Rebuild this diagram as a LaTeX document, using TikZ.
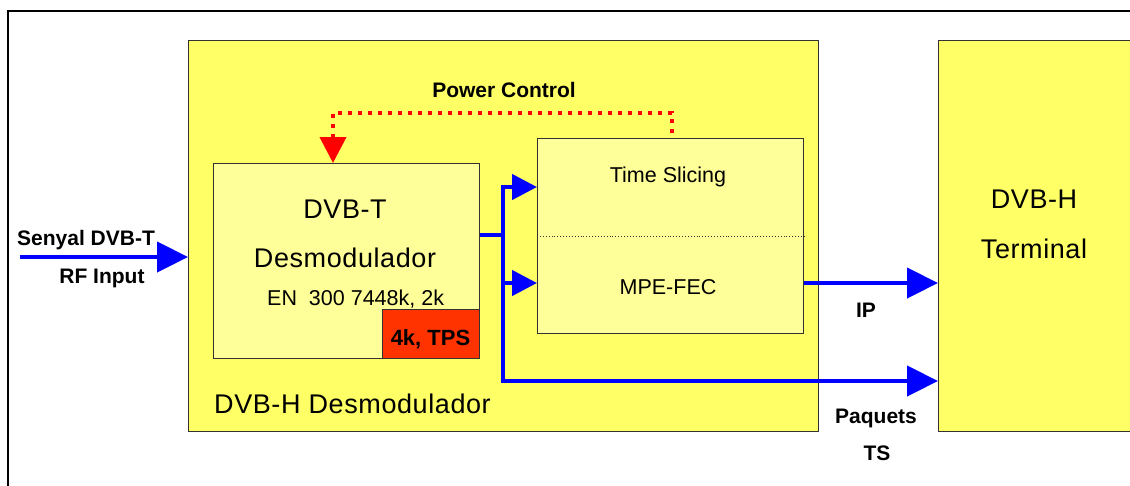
\documentclass[tikz,border=0pt]{standalone}
\usepackage{fontspec}
\setmainfont{Liberation Sans}
\usetikzlibrary{arrows.meta}
\definecolor{yel}{HTML}{FFFF66}
\definecolor{lyel}{HTML}{FFFF99}
\definecolor{tpsred}{HTML}{FF3300}
\definecolor{edge}{HTML}{333333}
\begin{document}
\begin{tikzpicture}[x=1pt,y=-1pt,
 box/.style={draw=edge,line width=1.2pt,inner sep=0pt,anchor=north west},
 lbl/.style={inner sep=0pt,anchor=base},
 big/.style={font=\fontsize{27}{32}\selectfont\addfontfeatures{LetterSpace=2.2}},
 small/.style={font=\fontsize{21.5}{26}\selectfont},
 bsmall/.style={font=\fontsize{21}{25}\selectfont\bfseries},
 flow/.style={draw=blue,line width=4.5pt,-{Triangle[length=31pt,width=30pt]}},
 flowsm/.style={draw=blue,line width=4.5pt,-{Triangle[length=25pt,width=25pt]}},
 ctrl/.style={draw=red,line width=4pt,dash pattern=on 4pt off 6pt,-{Triangle[length=26pt,width=26pt]}},
]
\clip (0,0) rectangle (1130,485);
\fill[white] (0,0) rectangle (1130,485);
\draw[line width=2.5pt] (8,11) rectangle (1150,500);

% boxes
\node[box,fill=yel,minimum width=630pt,minimum height=391pt] (demod) at (188,40) {};
\node[box,fill=yel,minimum width=260pt,minimum height=391pt] (term) at (938,40) {};
\node[box,fill=lyel,minimum width=266pt,minimum height=195pt] (dvbt) at (213,163) {};
\node[box,fill=tpsred,minimum width=97pt,minimum height=49pt] (tps) at (382,309) {};
\node[box,fill=lyel,minimum width=266pt,minimum height=195pt] (mpe) at (537,138) {};
\coordinate (dv) at (0,236);
\draw[edge,line width=0.9pt,dotted] (mpe.west |- dv) -- (mpe.east |- dv);

% blue connectors
\coordinate (jt) at (503,187);
\coordinate (jm) at (503,235);
\coordinate (jip) at (503,283);
\coordinate (jb) at (503,381);
\coordinate (rfin) at (20,257);
\draw[flow] (rfin) -- (rfin -| demod.west);
\draw[draw=blue,line width=4.5pt] (dvbt.east |- jm) -- (jm);
\draw[flowsm] (jb) -- (jt) -- (mpe.west |- jt);
\draw[flowsm] (jip) -- (mpe.west |- jip);
\draw[flow] (jt) -- (jb) -- (term.west |- jb);
\draw[flow] (mpe.east |- jip) -- (term.west |- jip);

% power control
\coordinate (pc1) at (672,133);
\coordinate (pc2) at (672,113);
\coordinate (pc3) at (333,113);
\draw[ctrl] (pc1) -- (pc2) -- (pc3) -- (pc3 |- dvbt.north);

% texts
\node[lbl,big] (t1) at (345,218) {DVB-T};
\node[lbl,big] (t2) at (345,267) {Desmodulador};
\node[lbl,small,anchor=base west] (t3) at (267,305) {EN\ \ 300 7448k, 2k};
\node[lbl,font=\fontsize{22}{26}\selectfont\bfseries] (t4) at (430.5,345) {4k, TPS};
\node[lbl,big,anchor=base west] (t5) at (214,413) {DVB-H Desmodulador};
\node[lbl,small] (t6) at (668,182) {Time Slicing};
\node[lbl,small] (t7) at (668,294) {MPE-FEC};
\node[lbl,bsmall] (t8) at (866,317) {IP};
\node[lbl,bsmall] (t9) at (876,423) {Paquets};
\node[lbl,bsmall] (t10) at (877,460) {TS};
\node[lbl,bsmall] (t11) at (504,97) {Power Control};
\node[lbl,bsmall,anchor=base west] (t12) at (17,245) {Senyal DVB-T};
\node[lbl,bsmall] (t13) at (102,283) {RF Input};
\node[lbl,big] (t14) at (1034,208) {DVB-H};
\node[lbl,big] (t15) at (1034,258) {Terminal};
\end{tikzpicture}
\end{document}
